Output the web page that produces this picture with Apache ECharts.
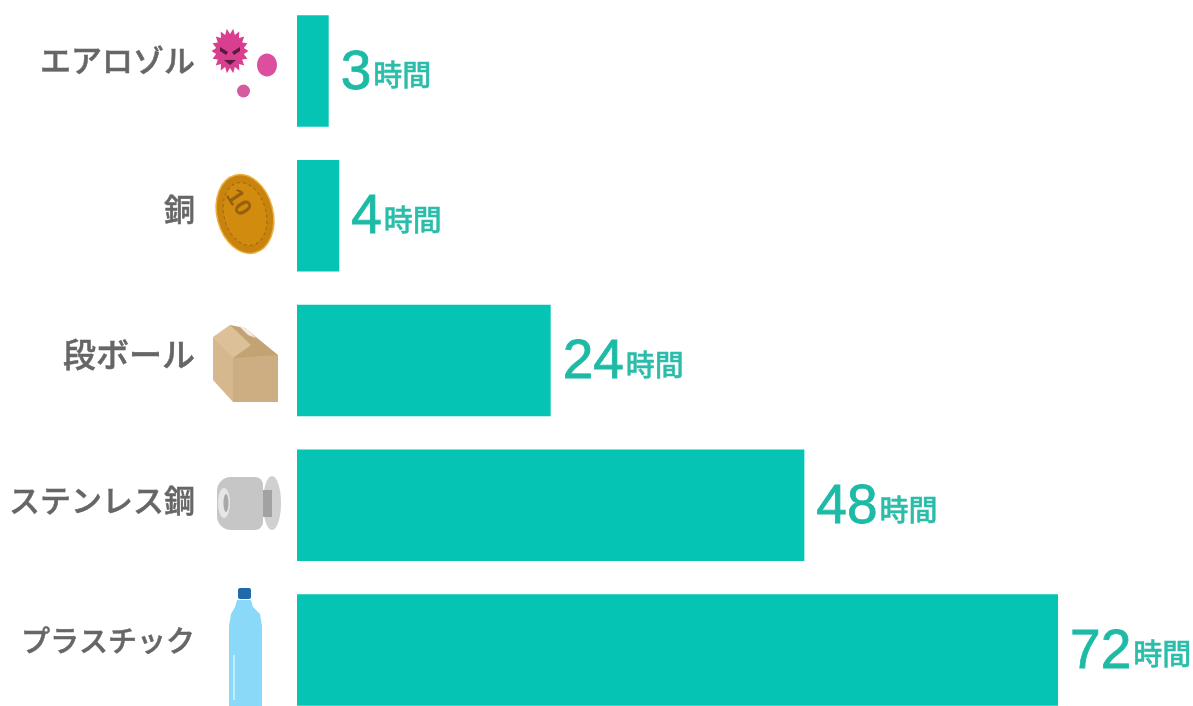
<!DOCTYPE html>
<html><head><meta charset="utf-8">
<style>html,body{margin:0;padding:0;background:#fff;overflow:hidden}#c{width:1193px;height:706px;filter:blur(0.5px)}</style>
<script src="https://cdn.jsdelivr.net/npm/echarts@6/dist/echarts.min.js"></script>
</head><body><div id="c"></div>
<script>
const categories = ['エアロゾル','銅','段ボール','ステンレス鋼','プラスチック'];
const hours = [3,4,24,48,72];
const unit = '時間';
const labelLift = [22,14,12,10,18];
const labelSize = [31,31,33,31,29];

const chart = echarts.init(document.getElementById('c'),null,{renderer:'canvas'});
function spikes(cx,cy,rx,ry,k,n){const p=[];for(let i=0;i<n*2;i++){const f=i%2?k:1,a=Math.PI*i/n;p.push([cx+f*rx*Math.cos(a),cy+f*ry*Math.sin(a)]);}return p;}
const icons = [
 {type:'polygon',shape:{points:spikes(230,51,18.5,22.5,0.76,18)},style:{fill:'#d8408f'}},
 {type:'polygon',shape:{points:[[220,47],[228,52],[226,55],[220,51]]},style:{fill:'#5a1a40'}},
 {type:'polygon',shape:{points:[[240,47],[232,52],[234,55],[240,51]]},style:{fill:'#5a1a40'}},
 {type:'polygon',shape:{points:[[224,60],[236,60],[230,65]]},style:{fill:'#5a1a40'}},
 {type:'ellipse',shape:{cx:267,cy:65,rx:10,ry:11.5},style:{fill:'#dc4f9f'}},
 {type:'circle',shape:{cx:243.5,cy:91,r:6.5},style:{fill:'#d65a9e'}},
 {type:'ellipse',rotation:0.25,originX:245,originY:214,shape:{cx:245,cy:214,rx:28,ry:40},style:{fill:'#c8830f',stroke:'#eeb040',lineWidth:1.5}},
 {type:'ellipse',rotation:0.25,originX:245,originY:214,shape:{cx:245,cy:214,rx:21,ry:32},style:{fill:'#d18c10',stroke:'#a06510',lineWidth:1,lineDash:[3,3]}},
 {type:'text',rotation:-1.0,x:238,y:203,style:{text:'10',fill:'#96600f',font:'bold 24px "Liberation Sans"',align:'center',verticalAlign:'middle'}},
 {type:'polygon',shape:{points:[[213,337],[233,355],[233,402],[213,380]]},style:{fill:'#d6b88e'}},
 {type:'polygon',shape:{points:[[233,355],[278,355],[278,402],[233,402]]},style:{fill:'#cdae82'}},
 {type:'polygon',shape:{points:[[230,325],[245,328],[278,355],[233,358]]},style:{fill:'#c3a274'}},
 {type:'polygon',shape:{points:[[213,337],[230,325],[251,345],[233,358]]},style:{fill:'#dcc097'}},
 {type:'polygon',shape:{points:[[238,325],[247,329],[256,338],[248,335]]},style:{fill:'#f2ece2'}},
 {type:'ellipse',shape:{cx:272,cy:503,rx:9,ry:27},style:{fill:'#d0d0d0'}},
 {type:'rect',shape:{x:260,y:490,width:12,height:27},style:{fill:'#a2a2a2'}},
 {type:'rect',shape:{x:217,y:477,width:46,height:53,r:[14,8,8,14]},style:{fill:'#c6c6c6'}},
 {type:'ellipse',shape:{cx:224,cy:503,rx:6,ry:15},style:{fill:'#e6e6e6'}},
 {type:'ellipse',shape:{cx:226,cy:503,rx:2.5,ry:9},style:{fill:'#a8a8a8'}},
 {type:'polygon',shape:{points:[[237,600],[251,600],[253,607],[260,614],[262,626],[262,706],[229,706],[229,626],[231,614],[235,607]]},style:{fill:'#8bd9f8'}},
 {type:'rect',shape:{x:238,y:588,width:13,height:11,r:2},style:{fill:'#2069ac'}},
 {type:'rect',shape:{x:233,y:655,width:2,height:45},style:{fill:'#c3ecfc'}}
];
const catStyle = {fontSize:31,color:'#666666',fontWeight:500,fontFamily:'"Noto Sans CJK JP"',textBorderColor:'#666666',textBorderWidth:0.5};
const catRich = {};
labelLift.forEach((v,i)=>{catRich['c'+i]={...catStyle,fontSize:labelSize[i],padding:[0,0,v,0]};});
chart.setOption({
 animation:false,
 backgroundColor:'#ffffff',
 graphic:icons,
 grid:{left:297,top:-1.4,width:1057,height:723.75,outerBoundsMode:'none'},
 xAxis:{type:'value',min:0,max:100,show:false},
 yAxis:{type:'category',inverse:true,data:categories,
  axisLine:{show:false},axisTick:{show:false},
  axisLabel:{margin:102,align:'right',...catStyle,rich:catRich,
   formatter:(v)=>`{c${categories.indexOf(v)}|${v}}`}},
 series:[{type:'bar',data:hours,barWidth:111.5,
  itemStyle:{color:'#06c4b4'},
  label:{show:true,position:'right',distance:12,offset:[0,2.5],
   formatter:p=>`{n|${p.value}}{u|${unit}}`,
   rich:{
    n:{fontSize:55,color:'#1dbaa6',fontFamily:'"Liberation Sans"',textBorderColor:'#1dbaa6',textBorderWidth:0.8},
    u:{fontSize:29,color:'#2cbcaa',fontWeight:500,fontFamily:'"Noto Sans CJK JP"',padding:[4,0,0,2],textBorderColor:'#2cbcaa',textBorderWidth:0.4}
   }}}]
});
</script></body></html>
